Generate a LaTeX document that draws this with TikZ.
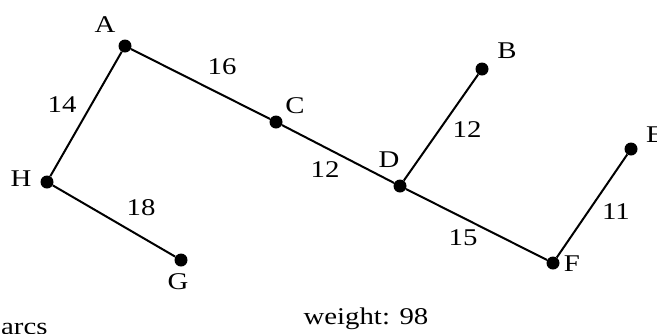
\documentclass[tikz,border=0pt]{standalone}
\usepackage{fontspec}
\setmainfont{Liberation Serif}[FakeStretch=1.2]
\tikzset{
  dot/.style={circle, fill=black, inner sep=0pt, minimum size=13pt},
  lbl/.style={inner sep=0pt, font=\fontsize{24}{28}\selectfont},
  edge/.style={line width=2pt, black}
}
\begin{document}
\begin{tikzpicture}[x=1pt, y=-1pt]
\useasboundingbox (0,0) rectangle (657,333);
% vertices
\node[dot] (A) at (125,46) {};
\node[dot] (C) at (276,122) {};
\node[dot] (D) at (400,186) {};
\node[dot] (B) at (482,69) {};
\node[dot] (E) at (631,149) {};
\node[dot] (F) at (553,263) {};
\node[dot] (H) at (47,182) {};
\node[dot] (G) at (181,260) {};
% edges
\draw[edge] (H) -- (A);
\draw[edge] (A) -- (C);
\draw[edge] (C) -- (D);
\draw[edge] (D) -- (B);
\draw[edge] (D) -- (F);
\draw[edge] (F) -- (E);
\draw[edge] (H) -- (G);
% vertex labels
\node[lbl] (lA) at (105,25) {A};
\node[lbl] (lC) at (295,106) {C};
\node[lbl] (lD) at (389,160) {D};
\node[lbl] (lB) at (507,51) {B};
\node[lbl, anchor=west] (lE) at (646,134.5) {E};
\node[lbl] (lF) at (572,264) {F};
\node[lbl] (lH) at (21,179) {H};
\node[lbl] (lG) at (178,282) {G};
% edge weights
\node[lbl] (w16) at (222,67) {16};
\node[lbl] (w14) at (62,105) {14};
\node[lbl] (w12a) at (467,130) {12};
\node[lbl] (w12b) at (325,170) {12};
\node[lbl] (w18) at (141,208) {18};
\node[lbl] (w15) at (463,238) {15};
\node[lbl] (w11) at (616,212) {11};
% captions
\node[lbl, anchor=base] (wt) at (366,324) {weight: 98};
\node[lbl, anchor=base west] (arcs) at (1,334) {arcs};
\end{tikzpicture}
\end{document}
